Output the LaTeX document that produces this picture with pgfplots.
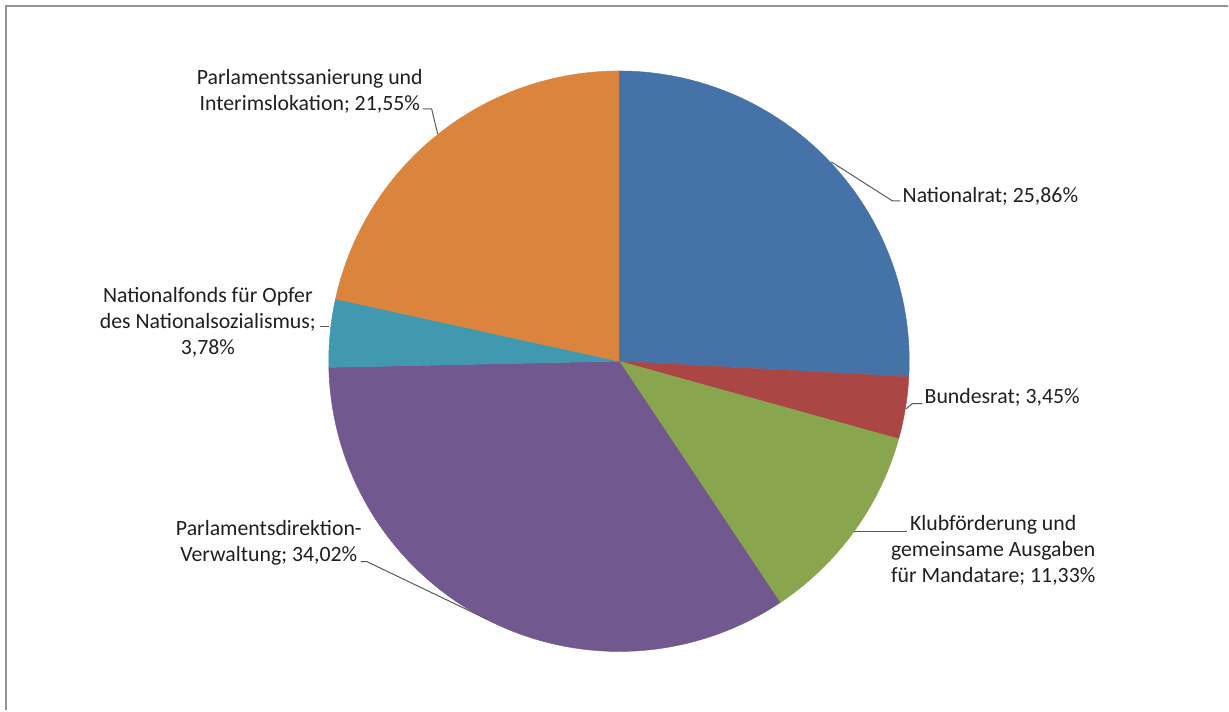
\documentclass[border=0pt]{standalone}
\usepackage{pgfplots}
\pgfplotsset{compat=1.18}
\usepackage{fontspec}
\setmainfont{Carlito}
\definecolor{cNR}{HTML}{4572A7}
\definecolor{cBR}{HTML}{AA4643}
\definecolor{cKL}{HTML}{89A54E}
\definecolor{cPD}{HTML}{71588F}
\definecolor{cNF}{HTML}{4198AF}
\definecolor{cPS}{HTML}{DB843D}
\definecolor{lead}{HTML}{595959}
% shares in percent
\def\vNR{25.86}\def\vBR{3.45}\def\vKL{11.33}\def\vPD{34.02}\def\vNF{3.78}\def\vPS{21.55}
\def\cx{619.5}\def\cy{349.5}\def\rr{290.5}
\tikzset{lbl/.style={font=\fontsize{10.9}{13}\selectfont, text=black!88, inner sep=0pt}}
\begin{document}%
\pgfmathsetmacro\aA{90}%
\pgfmathsetmacro\aB{\aA-3.6*\vNR}%
\pgfmathsetmacro\aC{\aB-3.6*\vBR}%
\pgfmathsetmacro\aD{\aC-3.6*\vKL}%
\pgfmathsetmacro\aE{\aD-3.6*\vPD}%
\pgfmathsetmacro\aF{\aE-3.6*\vNF}%
\pgfmathsetmacro\aG{-270}%
\begin{tikzpicture}
\begin{axis}[width=614.5pt, height=355.5pt, scale only axis,
  xmin=0, xmax=1229, ymin=0, ymax=711,
  ticks=none, axis line style={draw=none}, clip=false]
\addplot[fill=cNR, draw=cNR, line width=0.2pt, domain=\aB:\aA, samples=80] ({\cx+\rr*cos(x)},{\cy+\rr*sin(x)}) -- (axis cs:\cx,\cy) -- cycle;
\addplot[fill=cBR, draw=cBR, line width=0.2pt, domain=\aC:\aB, samples=20] ({\cx+\rr*cos(x)},{\cy+\rr*sin(x)}) -- (axis cs:\cx,\cy) -- cycle;
\addplot[fill=cKL, draw=cKL, line width=0.2pt, domain=\aD:\aC, samples=40] ({\cx+\rr*cos(x)},{\cy+\rr*sin(x)}) -- (axis cs:\cx,\cy) -- cycle;
\addplot[fill=cPD, draw=cPD, line width=0.2pt, domain=\aE:\aD, samples=100] ({\cx+\rr*cos(x)},{\cy+\rr*sin(x)}) -- (axis cs:\cx,\cy) -- cycle;
\addplot[fill=cNF, draw=cNF, line width=0.2pt, domain=\aF:\aE, samples=20] ({\cx+\rr*cos(x)},{\cy+\rr*sin(x)}) -- (axis cs:\cx,\cy) -- cycle;
\addplot[fill=cPS, draw=cPS, line width=0.2pt, domain=\aG:\aF, samples=80] ({\cx+\rr*cos(x)},{\cy+\rr*sin(x)}) -- (axis cs:\cx,\cy) -- cycle;
% border
\draw[gray!85, line width=1pt] (axis cs:6.5,0) -- (axis cs:6.5,705) -- (axis cs:1229,705);
% leader lines
\draw[lead, line width=0.5pt] (axis cs:423,602) -- (axis cs:432,602) -- (axis cs:438,577);
\draw[lead, line width=0.5pt] (axis cs:832,549) -- (axis cs:893,510) -- (axis cs:901,510);
\draw[lead, line width=0.5pt] (axis cs:907,302) -- (axis cs:913,307) -- (axis cs:923,307);
\draw[lead, line width=0.5pt] (axis cs:855,179) -- (axis cs:908,179);
\draw[lead, line width=0.5pt] (axis cs:361,149) -- (axis cs:367,149) -- (axis cs:488,91);
\draw[lead, line width=0.5pt] (axis cs:320,384) -- (axis cs:329,384);
% labels
\node[lbl, align=center] at (axis cs:310,620) {Parlamentssanierung und\\Interimslokation; 21,55\%};
\node[lbl, anchor=west] at (axis cs:903,515) {Nationalrat; 25,86\%};
\node[lbl, anchor=west] at (axis cs:925,313) {Bundesrat; 3,45\%};
\node[lbl, align=center] at (axis cs:994,160) {Klubförderung und\\gemeinsame Ausgaben\\für Mandatare; 11,33\%};
\node[lbl, align=center] at (axis cs:269,168) {Parlamentsdirektion-\\Verwaltung; 34,02\%};
\node[lbl, align=center] at (axis cs:208,388) {Nationalfonds für Opfer\\des Nationalsozialismus;\\3,78\%};
\end{axis}
\end{tikzpicture}%
\end{document}
